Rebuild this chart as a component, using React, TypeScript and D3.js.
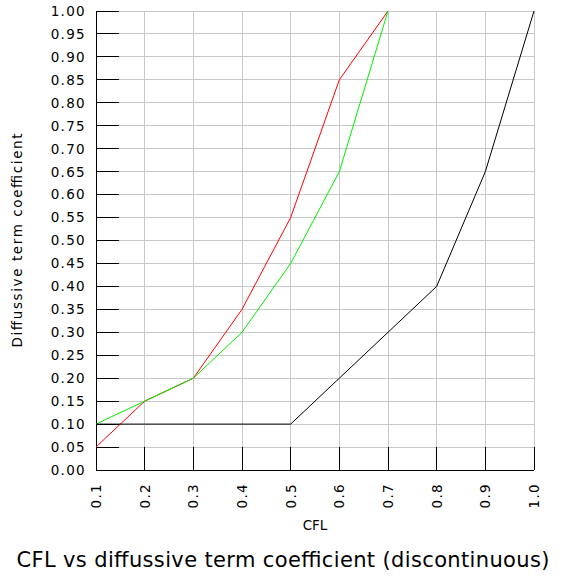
import React from 'react';
import * as d3 from 'd3';

// CFL values on x
const cfl = [0.1, 0.2, 0.3, 0.4, 0.5, 0.6, 0.7, 0.8, 0.9, 1.0];
const redSeries = [0.05, 0.15, 0.2, 0.35, 0.55, 0.85, 1.0];
const greenSeries = [0.1, 0.15, 0.2, 0.3, 0.45, 0.65, 1.0];
const blackSeries = [0.1, 0.1, 0.1, 0.1, 0.1, 0.2, 0.3, 0.4, 0.65, 1.0];
const yTicks = d3.range(0, 21).map(i => i * 0.05);
const xTickLabels = ['0.1', '0.2', '0.3', '0.4', '0.5', '0.6', '0.7', '0.8', '0.9', '1.0'];

const W = 562, H = 579;
const margin = { top: 11, right: 28, bottom: 109, left: 96 };
const FONT = '"DejaVu Sans", sans-serif';

export default function App() {
  const x = d3.scaleLinear().domain([0.1, 1.0]).range([margin.left, W - margin.right]);
  const y = d3.scaleLinear().domain([0, 1]).range([H - margin.bottom, margin.top]);
  const bottom = y(0);

  const line = d3.line<[number, number]>().x(d => x(d[0])).y(d => y(d[1]));
  const series = [
    { vals: redSeries, color: '#ff0000' },
    { vals: greenSeries, color: '#00ee00' },
    { vals: blackSeries, color: '#000000' },
  ];

  return (
    <svg width={W} height={H} style={{ position: 'absolute', left: 0, top: 0, background: '#fff' }}>
      {/* grid */}
      <g stroke="#c8c8c8" strokeWidth={1} shapeRendering="crispEdges">
        {yTicks.map((t, i) => (
          <line key={'gy' + i} x1={x(0.1)} x2={x(1.0)} y1={y(t)} y2={y(t)} />
        ))}
        {cfl.map((c, i) => (
          <line key={'gx' + i} x1={x(c)} x2={x(c)} y1={y(0)} y2={y(1)} />
        ))}
      </g>
      {/* ticks and axes */}
      <g stroke="#000" strokeWidth={1} shapeRendering="crispEdges">
        {yTicks.map((t, i) => (
          <line key={'ty' + i} x1={x(0.1)} x2={x(0.1) + 23} y1={y(t)} y2={y(t)} />
        ))}
        {cfl.map((c, i) => (
          <line key={'tx' + i} x1={x(c)} x2={x(c)} y1={bottom} y2={bottom - 23} />
        ))}
        <line x1={x(0.1)} x2={x(0.1)} y1={y(0)} y2={y(1)} />
        <line x1={x(0.1)} x2={x(1.0)} y1={bottom} y2={bottom} />
      </g>
      {/* data */}
      {series.map((s, i) => (
        <path key={'s' + i}
          d={line(s.vals.map((v, j) => [cfl[j], v] as [number, number])) || ''}
          fill="none" stroke={s.color} strokeWidth={1} />
      ))}
      {/* y tick labels */}
      <g fontFamily={FONT} fontSize={13.5} fill="#000" textAnchor="end">
        {yTicks.map((t, i) => (
          <text key={'ly' + i} x={86} y={y(t)} dy="0.36em" letterSpacing={1.3}>{t.toFixed(2)}</text>
        ))}
      </g>
      {/* x tick labels */}
      <g fontFamily={FONT} fontSize={13.5} fill="#000" textAnchor="end">
        {cfl.map((c, i) => (
          <text key={'lx' + i} transform={`translate(${x(c)},${bottom + 13}) rotate(-90)`} dy="0.36em" letterSpacing={1.3}>
            {xTickLabels[i]}
          </text>
        ))}
      </g>
      <text x={(x(0.1) + x(1.0)) / 2} y={530} fontFamily={FONT} fontSize={13.5} textAnchor="middle">CFL</text>
      <text transform={`translate(22,${(y(0) + y(1)) / 2}) rotate(-90)`} fontFamily={FONT} fontSize={13.5}
        textAnchor="middle" textLength={214} lengthAdjust="spacing">Diffussive term coefficient</text>
      <text x={283} y={567} fontFamily={FONT} fontSize={21} textAnchor="middle"
        textLength={533} lengthAdjust="spacing">CFL vs diffussive term coefficient (discontinuous)</text>
    </svg>
  );
}
